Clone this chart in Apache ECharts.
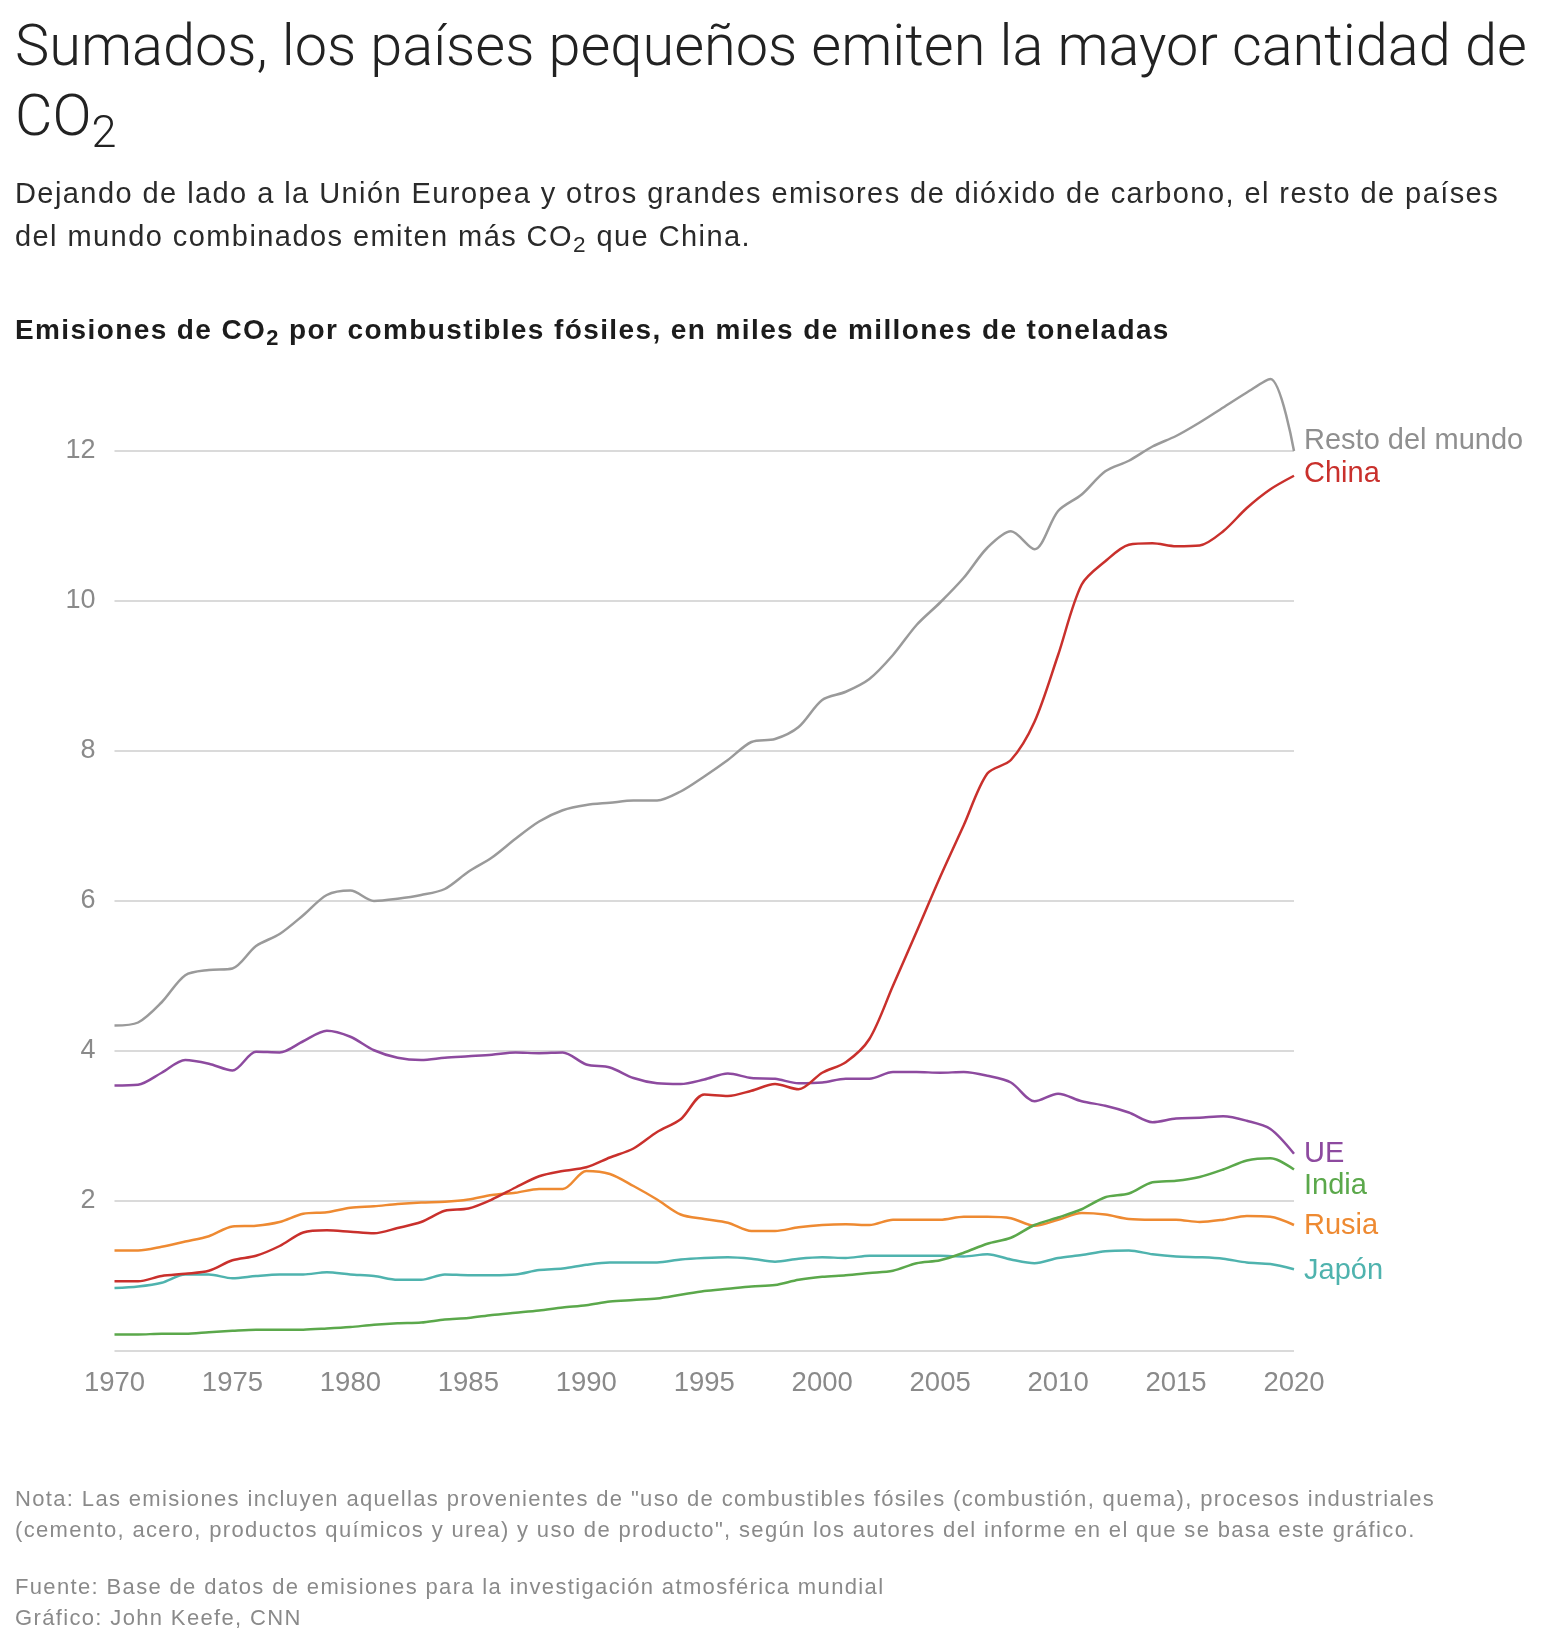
<!DOCTYPE html>
<html>
<head>
<meta charset="utf-8">
<script src="https://cdn.jsdelivr.net/npm/echarts@6/dist/echarts.min.js"></script>
<style>
  html, body { margin: 0; padding: 0; background: #fff; }
  #page { position: relative; width: 1568px; height: 1642px; overflow: hidden; }
  #chart { position: absolute; left: 0; top: 0; width: 1568px; height: 1642px; }
  .txt { position: absolute; left: 15px; white-space: nowrap; font-family: "Liberation Sans", Arial, sans-serif; }
  .txt sub { font-size: 0.78em; vertical-align: baseline; position: relative; top: 0.26em; line-height: 0; }
  #title { top: 10px; font-size: 57.7px; line-height: 70px; color: #222; font-family: Roboto, "Liberation Sans", sans-serif; font-weight: 300; }
  #subtitle { top: 172px; font-size: 29px; line-height: 43px; letter-spacing: 1.43px; color: #2a2a2a; }
  #charttitle { top: 313px; font-size: 28px; line-height: 34px; letter-spacing: 1.4px; color: #1c1c1c; font-weight: bold; }
  #nota { top: 1483px; font-size: 22px; line-height: 31px; letter-spacing: 1.35px; color: #8a8a8a; }
  #fuente { top: 1571px; font-size: 22px; line-height: 31px; letter-spacing: 1.35px; color: #8a8a8a; }
</style>
</head>
<body>
<div id="page">
  <div id="chart"></div>
  <div class="txt" id="title">Sumados, los países pequeños emiten la mayor cantidad de<br>CO<sub>2</sub></div>
  <div class="txt" id="subtitle">Dejando de lado a la Unión Europea y otros grandes emisores de dióxido de carbono, el resto de países<br>del mundo combinados emiten más CO<sub>2</sub> que China.</div>
  <div class="txt" id="charttitle">Emisiones de CO<sub>2</sub> por combustibles fósiles, en miles de millones de toneladas</div>
  <div class="txt" id="nota">Nota: Las emisiones incluyen aquellas provenientes de "uso de combustibles fósiles (combustión, quema), procesos industriales<br>(cemento, acero, productos químicos y urea) y uso de producto", según los autores del informe en el que se basa este gráfico.</div>
  <div class="txt" id="fuente">Fuente: Base de datos de emisiones para la investigación atmosférica mundial<br>Gráfico: John Keefe, CNN</div>
</div>
<script>
// años (eje x)
var years = ['1970','1971','1972','1973','1974','1975','1976','1977','1978','1979',
  '1980','1981','1982','1983','1984','1985','1986','1987','1988','1989',
  '1990','1991','1992','1993','1994','1995','1996','1997','1998','1999',
  '2000','2001','2002','2003','2004','2005','2006','2007','2008','2009',
  '2010','2011','2012','2013','2014','2015','2016','2017','2018','2019','2020'];

// miles de millones de toneladas de CO2
var restoDelMundo = [4.34, 4.38, 4.65, 5.01, 5.08, 5.10, 5.40, 5.56, 5.81, 6.08,
  6.14, 6.00, 6.03, 6.08, 6.16, 6.39, 6.58, 6.83, 7.06, 7.21,
  7.28, 7.31, 7.34, 7.34, 7.46, 7.66, 7.88, 8.12, 8.16, 8.32,
  8.68, 8.79, 8.96, 9.28, 9.68, 9.98, 10.31, 10.71, 10.93, 10.69,
  11.20, 11.42, 11.73, 11.87, 12.06, 12.20, 12.38, 12.58, 12.78, 12.96, 12.00];
var china = [0.93, 0.93, 1.00, 1.03, 1.07, 1.21, 1.27, 1.40, 1.58, 1.61,
  1.59, 1.57, 1.64, 1.72, 1.87, 1.90, 2.02, 2.18, 2.33, 2.40,
  2.45, 2.58, 2.70, 2.92, 3.09, 3.42, 3.40, 3.47, 3.56, 3.49,
  3.71, 3.85, 4.16, 4.87, 5.59, 6.32, 7.01, 7.70, 7.88, 8.39,
  9.28, 10.22, 10.53, 10.75, 10.77, 10.73, 10.74, 10.93, 11.24, 11.49, 11.67];
var ue = [3.54, 3.55, 3.71, 3.88, 3.83, 3.74, 3.99, 3.98, 4.13, 4.27,
  4.19, 4.01, 3.91, 3.88, 3.91, 3.93, 3.95, 3.98, 3.97, 3.98,
  3.82, 3.78, 3.64, 3.57, 3.56, 3.62, 3.70, 3.64, 3.63, 3.57,
  3.58, 3.63, 3.63, 3.72, 3.72, 3.71, 3.72, 3.67, 3.58, 3.33,
  3.43, 3.33, 3.27, 3.18, 3.05, 3.10, 3.11, 3.13, 3.07, 2.96, 2.63];
var india = [0.22, 0.22, 0.23, 0.23, 0.25, 0.27, 0.285, 0.285, 0.285, 0.30,
  0.32, 0.35, 0.37, 0.38, 0.42, 0.44, 0.48, 0.51, 0.54, 0.58,
  0.61, 0.66, 0.68, 0.70, 0.75, 0.80, 0.83, 0.86, 0.88, 0.95,
  0.99, 1.01, 1.04, 1.07, 1.17, 1.21, 1.31, 1.43, 1.51, 1.68,
  1.78, 1.89, 2.05, 2.10, 2.25, 2.27, 2.32, 2.42, 2.54, 2.57, 2.42];
var rusia = [1.34, 1.34, 1.39, 1.46, 1.53, 1.66, 1.67, 1.72, 1.83, 1.85,
  1.91, 1.93, 1.96, 1.98, 1.99, 2.02, 2.08, 2.11, 2.16, 2.16,
  2.40, 2.36, 2.20, 2.02, 1.82, 1.76, 1.71, 1.60, 1.60, 1.65,
  1.68, 1.69, 1.68, 1.75, 1.75, 1.75, 1.79, 1.79, 1.77, 1.67,
  1.75, 1.84, 1.82, 1.76, 1.75, 1.75, 1.72, 1.75, 1.80, 1.79, 1.68];
var japon = [0.84, 0.86, 0.91, 1.02, 1.02, 0.97, 1.00, 1.02, 1.02, 1.05,
  1.02, 1.00, 0.95, 0.95, 1.02, 1.01, 1.01, 1.02, 1.08, 1.10,
  1.15, 1.18, 1.18, 1.18, 1.22, 1.24, 1.25, 1.23, 1.19, 1.23,
  1.25, 1.24, 1.27, 1.27, 1.27, 1.27, 1.26, 1.29, 1.22, 1.17,
  1.24, 1.28, 1.33, 1.34, 1.29, 1.26, 1.25, 1.23, 1.18, 1.16, 1.09];

var font = '"Liberation Sans", Arial, sans-serif';

function makeSeries(name, data, color, labelColor, dy) {
  return {
    name: name,
    type: 'line',
    data: data,
    smooth: 0.3,
    showSymbol: false,
    clip: false,
    lineStyle: { color: color, width: 2.5 },
    itemStyle: { color: color },
    emphasis: { disabled: true },
    endLabel: {
      show: true,
      formatter: name,
      color: labelColor,
      fontSize: 29,
      fontFamily: font,
      distance: 10,
      offset: [0, dy]
    }
  };
}

var myChart = echarts.init(document.getElementById('chart'));
var option = {
  animation: false,
  backgroundColor: '#fff',
  grid: { left: 114.5, right: 274, top: 451, bottom: 291 },
  xAxis: {
    type: 'category',
    data: years,
    boundaryGap: false,
    axisLine: { show: false },
    axisTick: { show: false },
    axisLabel: { interval: 4, color: '#8a8a8a', fontSize: 27.5, fontFamily: font, margin: 18 }
  },
  yAxis: {
    type: 'value',
    min: 0,
    max: 12,
    interval: 2,
    axisLine: { show: false },
    axisTick: { show: false },
    axisLabel: {
      color: '#8a8a8a', fontSize: 27, fontFamily: font, margin: 19,
      formatter: function (v) { return v === 0 ? '' : v; }
    },
    splitLine: { lineStyle: { color: '#dadada', width: 2 } }
  },
  series: [
    makeSeries('Japón', japon, '#4fb3ae', '#4fb3ae', 1.5),
    makeSeries('Rusia', rusia, '#ee8a32', '#ee8a32', 0.5),
    makeSeries('India', india, '#5ba84b', '#5ba84b', 16),
    makeSeries('UE', ue, '#8d4a9f', '#8d4a9f', 0),
    makeSeries('China', china, '#c9302c', '#c9302c', -1.5),
    makeSeries('Resto del mundo', restoDelMundo, '#9a9a9a', '#8f8f8f', -10.5)
  ]
};
myChart.setOption(option);
</script>
</body>
</html>
